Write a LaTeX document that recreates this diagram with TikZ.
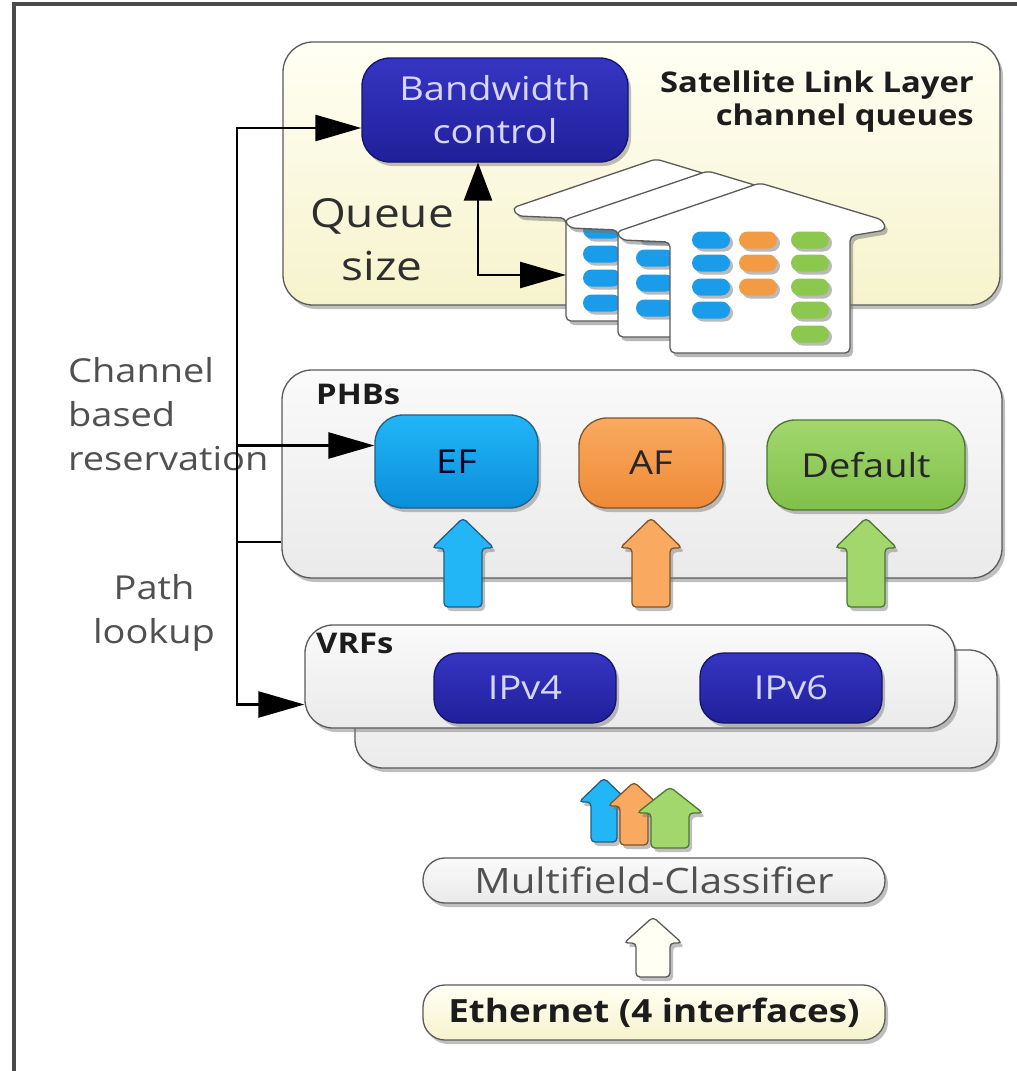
\documentclass[tikz,border=0pt]{standalone}
\usepackage{fontspec}
\setmainfont{Open Sans}[FakeStretch=1.15]
\usetikzlibrary{arrows.meta,shadows,calc}

\definecolor{framegray}{HTML}{4A4A4A}
\definecolor{edgegray}{HTML}{5A5A5A}
\definecolor{navyA}{HTML}{3535C4}
\definecolor{navyB}{HTML}{20209A}
\definecolor{navyEdge}{HTML}{14146A}
\definecolor{navyText}{HTML}{D6D6FF}
\definecolor{efA}{HTML}{22B6F6}
\definecolor{efB}{HTML}{0A8EDB}
\definecolor{efEdge}{HTML}{245E85}
\definecolor{afA}{HTML}{FAAA60}
\definecolor{afB}{HTML}{EE8A36}
\definecolor{afEdge}{HTML}{80552C}
\definecolor{dfA}{HTML}{A2D76E}
\definecolor{dfB}{HTML}{80C04A}
\definecolor{dfEdge}{HTML}{4C7630}
\definecolor{pillblue}{HTML}{1A9CEB}
\definecolor{pillorange}{HTML}{F39A45}
\definecolor{pillgreen}{HTML}{8CC84E}
\definecolor{creamA}{HTML}{FFFFF4}
\definecolor{creamB}{HTML}{F6F3CC}
\definecolor{greyA}{HTML}{FAFAFA}
\definecolor{greyB}{HTML}{EAEAEA}
\definecolor{labelgray}{HTML}{505050}
\definecolor{darktext}{HTML}{1C1C1C}

% one queue "house": dx shifts it sideways, dt moves the roof, db moves the floor
\newcommand\queuehouse[3]{%
  \path[house] (670+#1,353+#3) -- (670+#1,242+#2) -- (622+#1,240+#2) -- (616+#1,232+#2)
    -- (760+#1,183+#2) -- (883+#1,220+#2) -- (886+#1,230+#2) -- (850+#1,236+#2)
    -- (850+#1,353+#3) -- cycle;}
% one queued packet
\newcommand\qpill[3]{\path[pill,fill=#3] (#1-19,#2-8.5) rectangle (#1+19,#2+8.5);}
% fat upward arrow: style, centre x, tip y, bottom y, head half width, shaft half width, head height
\newcommand\blockup[7]{%
  \path[barrow,#1] (#2-#6,#4) -- (#2-#6,#3+#7) -- (#2-#5,#3+#7) -- (#2,#3)
    -- (#2+#5,#3+#7) -- (#2+#6,#3+#7) -- (#2+#6,#4) -- cycle;}

\begin{document}
\begin{tikzpicture}[x=1pt,y=-1pt,
  softshadow/.style={drop shadow={shadow xshift=3pt,shadow yshift=-4pt,fill=black!55,opacity=.45}},
  panel/.style={draw=edgegray,line width=1.3pt,rounded corners=30pt,inner sep=0pt,
    top color=greyA,bottom color=greyB,softshadow},
  box/.style={draw,line width=1.3pt,rounded corners=28pt,inner sep=0pt,align=center,
    font=\fontsize{33}{43}\selectfont,softshadow},
  navybox/.style={box,draw=navyEdge,top color=navyA,bottom color=navyB,text=navyText},
  efbox/.style={box,draw=efEdge,top color=efA,bottom color=efB,text=black!85!blue},
  afbox/.style={box,draw=afEdge,top color=afA,bottom color=afB,text=black!85},
  dfbox/.style={box,draw=dfEdge,top color=dfA,bottom color=dfB,text=black!85},
  strip/.style={draw=edgegray,line width=1.3pt,rounded corners=22pt,inner sep=0pt,softshadow},
  title/.style={font=\fontsize{28.5}{33}\selectfont\bfseries,text=darktext,inner sep=0pt},
  lbl/.style={font=\fontsize{33}{44}\selectfont,text=labelgray,inner sep=0pt},
  house/.style={draw=edgegray,line width=1.3pt,fill=white,rounded corners=5pt,
    drop shadow={shadow xshift=3pt,shadow yshift=-4pt,fill=black!55,opacity=.5}},
  pill/.style={rounded corners=8.5pt,
    drop shadow={shadow xshift=3pt,shadow yshift=-3pt,fill=black!45,opacity=.6}},
  barrow/.style={line width=1.3pt,rounded corners=4pt,softshadow},
  conn/.style={line width=2.6pt,draw=black},
  htip/.tip={Triangle[length=46pt,width=26pt]},
  vtip/.tip={Triangle[length=38pt,width=28pt]}
]
\useasboundingbox (0,0) rectangle (1017,1071);
\fill[white] (0,0) rectangle (1017,1071);
\draw[line width=3.5pt,framegray] (14,1071) -- (14,4) -- (1017,4);

% ---- satellite link layer ----
\node[panel,top color=creamA,bottom color=creamB,minimum width=717pt,minimum height=263pt] (sat) at (641.5,173.5) {};
\node[navybox,minimum width=266pt,minimum height=104pt] (bw) at (495,110) {Bandwidth\\control};
\node[title,anchor=north east,align=right] (satlbl) at (974,71) {Satellite Link Layer\\channel queues};
\node[anchor=north,align=center,inner sep=0pt,font=\fontsize{40}{53}\selectfont,text=black!82] (qsize) at (382,198) {Queue\\size};

\queuehouse{-104}{-24}{-32}
\qpill{602}{230}{pillblue}\qpill{602}{254}{pillblue}\qpill{602}{278}{pillblue}\qpill{602}{303}{pillblue}
\queuehouse{-52}{-12}{-16}
\qpill{655}{234}{pillblue}\qpill{655}{258}{pillblue}\qpill{655}{283}{pillblue}\qpill{655}{308}{pillblue}
\queuehouse{0}{0}{0}
\qpill{711}{240}{pillblue}\qpill{711}{263}{pillblue}\qpill{711}{287}{pillblue}\qpill{711}{310}{pillblue}
\qpill{758}{240}{pillorange}\qpill{758}{263}{pillorange}\qpill{758}{287}{pillorange}
\qpill{810}{240}{pillgreen}\qpill{810}{263}{pillgreen}\qpill{810}{287}{pillgreen}\qpill{810}{310}{pillgreen}\qpill{810}{334}{pillgreen}
\coordinate (qin) at (566,275);

% ---- per-hop behaviours ----
\node[panel,minimum width=720pt,minimum height=208pt] (phb) at (642,474) {};
\node[title,anchor=north west] (phblbl) at (316,384) {PHBs};
\node[efbox,minimum width=163pt,minimum height=93pt] (ef) at (456.5,461.5) {EF};
\node[afbox,minimum width=144pt,minimum height=90pt] (af) at (651,463) {AF};
\node[dfbox,minimum width=198pt,minimum height=90pt] (df) at (866,465) {Default};

\blockup{fill=efA,draw=efEdge}{463}{518}{607}{31}{19}{30}
\blockup{fill=afA,draw=afEdge}{651}{518}{607}{31}{19}{30}
\blockup{fill=dfA,draw=dfEdge}{866}{518}{607}{31}{19}{30}

% ---- VRFs ----
\node[panel,minimum width=642pt,minimum height=118pt,rounded corners=28pt] (vrfback) at (676,709) {};
\node[panel,minimum width=650pt,minimum height=103pt,rounded corners=28pt] (vrf) at (630,676.5) {};
\node[title,anchor=north west] (vrflbl) at (316,633) {VRFs};
\node[navybox,minimum width=182pt,minimum height=70pt,rounded corners=24pt] (ipv4) at (525,688) {IPv4};
\node[navybox,minimum width=182pt,minimum height=70pt,rounded corners=24pt] (ipv6) at (791,688) {IPv6};

\blockup{fill=efA,draw=efEdge}{604}{778}{842}{25}{13}{24}
\blockup{fill=afA,draw=afEdge}{634}{782}{845}{26}{14}{24}
\blockup{fill=dfA,draw=dfEdge}{670}{787}{848}{33}{19}{26}

% ---- classifier and interfaces ----
\node[strip,top color=greyA,bottom color=greyB,minimum width=462pt,minimum height=45pt,
  font=\fontsize{35}{40}\selectfont,text=labelgray] (mfc) at (654,880.5) {Multifield-Classifier};
\blockup{fill=creamA,draw=edgegray}{653}{917}{977}{29}{17}{26}
\node[strip,top color=creamA,bottom color=creamB,minimum width=462pt,minimum height=55pt,
  font=\fontsize{32}{40}\selectfont\bfseries,text=darktext] (eth) at (654,1012.5) {Ethernet (4 interfaces)};

% ---- side labels ----
\node[lbl,anchor=north west,align=left] (chlbl) at (68,357) {Channel\\based\\reservation};
\node[lbl,anchor=north,align=center] (pathlbl) at (154,574) {Path\\lookup};

% ---- control connectors ----
\coordinate (rail) at (237,300);
\draw[conn,htip-htip] ($(bw.west)+(0,18)$) -| (rail) |- ($(ef.west)+(0,-16)$);
\draw[conn,-htip] ($(phb.west)+(0,68)$) -| (rail) |- ($(vrf.west)+(0,28)$);
\draw[conn,vtip-htip] ($(bw.south)+(-17,0)$) |- (qin);
\end{tikzpicture}
\end{document}
